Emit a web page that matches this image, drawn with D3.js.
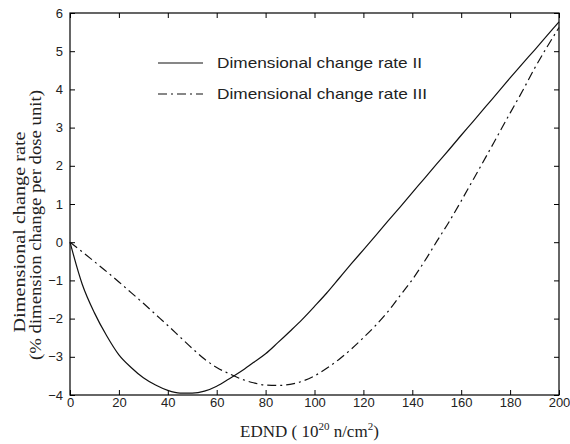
<!DOCTYPE html>
<html><head><meta charset="utf-8">
<script src="https://d3js.org/d3.v7.min.js"></script>
<style>body{margin:0;background:#fff}svg{display:block}</style>
</head><body>
<script>
const xValues = [0,5,10,15,20,25,30,35,40,45,50,55,60,65,70,75,80,85,90,95,100,105,110,115,120,125,130,135,140,145,150,155,160,165,170,175,180,185,190,195,200];
const rateII = [0,-1.1,-1.85,-2.45,-2.95,-3.28,-3.55,-3.74,-3.88,-3.95,-3.95,-3.9,-3.77,-3.58,-3.38,-3.15,-2.92,-2.63,-2.33,-2.02,-1.68,-1.33,-0.95,-0.57,-0.2,0.17,0.55,0.92,1.3,1.67,2.05,2.42,2.8,3.17,3.55,3.92,4.3,4.67,5.03,5.4,5.77];
const rateIII = [0,-0.25,-0.51,-0.77,-1.04,-1.32,-1.6,-1.89,-2.18,-2.48,-2.78,-3.06,-3.28,-3.44,-3.58,-3.68,-3.74,-3.75,-3.72,-3.64,-3.5,-3.3,-3.07,-2.8,-2.5,-2.18,-1.82,-1.4,-0.98,-0.5,0.02,0.53,1.08,1.65,2.22,2.8,3.38,3.95,4.55,5.1,5.62];
const xTicks = [0,20,40,60,80,100,120,140,160,180,200];
const yTicks = [-4,-3,-2,-1,0,1,2,3,4,5,6];
const seriesNames = ["Dimensional change rate II","Dimensional change rate III"];

const W = 570, H = 444;
const L = 70, R = 559, T = 13, B = 395;
const svg = d3.select("body").append("svg").attr("width", W).attr("height", H);
const x = d3.scaleLinear().domain([0,200]).range([L,R]);
const y = d3.scaleLinear().domain([-4,6]).range([B,T]);
const txtCol = "#222";
const dashDot = "9,4,2,4";

function ax(g, gen) {
  g.call(gen);
  g.select(".domain").remove();
  g.selectAll("line").attr("stroke","#000");
  g.selectAll("text").attr("fill",txtCol).attr("font-family","Liberation Sans, Arial, sans-serif").attr("font-size","13px");
}
ax(svg.append("g").attr("transform",`translate(0,${B})`), d3.axisBottom(x).tickValues(xTicks).tickSizeInner(-5).tickSizeOuter(0).tickPadding(3).tickFormat(d3.format("d")));
ax(svg.append("g").attr("transform",`translate(0,${T})`), d3.axisTop(x).tickValues(xTicks).tickSizeInner(-5).tickSizeOuter(0).tickFormat(""));
ax(svg.append("g").attr("transform",`translate(${L},0)`), d3.axisLeft(y).tickValues(yTicks).tickSizeInner(-5).tickSizeOuter(0).tickPadding(7).tickFormat(d3.format("d")));
ax(svg.append("g").attr("transform",`translate(${R},0)`), d3.axisRight(y).tickValues(yTicks).tickSizeInner(-5).tickSizeOuter(0).tickFormat(""));
svg.append("rect").attr("x",L).attr("y",T).attr("width",R-L).attr("height",B-T).attr("fill","none").attr("stroke","#000").attr("stroke-width",1.2);

const line = vals => d3.line().x((d,i)=>x(xValues[i])).y(d=>y(d)).curve(d3.curveMonotoneX)(vals);
svg.append("path").attr("d",line(rateII)).attr("fill","none").attr("stroke","#111").attr("stroke-width",1.2);
svg.append("path").attr("d",line(rateIII)).attr("fill","none").attr("stroke","#111").attr("stroke-width",1.2).attr("stroke-dasharray",dashDot);

// legend
const leg = svg.append("g");
const legLen = [205, 210];
[0,1].forEach(i=>{
  const yy = 63 + i*31;
  leg.append("line").attr("x1",158).attr("x2",203).attr("y1",yy).attr("y2",yy).attr("stroke","#111").attr("stroke-width",1.2).attr("stroke-dasharray", i? dashDot:null);
  leg.append("text").attr("x",217).attr("y",yy+5).text(seriesNames[i]).attr("fill",txtCol).attr("font-family","Liberation Sans, Arial, sans-serif").attr("font-size","15px").attr("textLength",legLen[i]).attr("lengthAdjust","spacingAndGlyphs");
});

// axis titles
const serif = "Liberation Serif, Times New Roman, serif";
const xt = svg.append("text").attr("x",240).attr("y",437).attr("fill",txtCol).attr("font-family",serif).attr("font-size","17px");
xt.append("tspan").text("EDND ( 10");
xt.append("tspan").text("20").attr("font-size","11px").attr("dy",-7);
xt.append("tspan").text(" n/cm").attr("dy",7);
xt.append("tspan").text("2").attr("font-size","11px").attr("dy",-7);
xt.append("tspan").text(")").attr("dy",7);
svg.append("text").attr("transform","translate(25,232) rotate(-90)").attr("text-anchor","middle").attr("fill",txtCol).attr("font-family",serif).attr("font-size","17px").attr("textLength",201).attr("lengthAdjust","spacingAndGlyphs").text("Dimensional change rate");
svg.append("text").attr("transform","translate(41,225) rotate(-90)").attr("text-anchor","middle").attr("fill",txtCol).attr("font-family",serif).attr("font-size","17px").attr("textLength",270).attr("lengthAdjust","spacingAndGlyphs").text("(% dimension change per dose unit)");
</script>
</body></html>
